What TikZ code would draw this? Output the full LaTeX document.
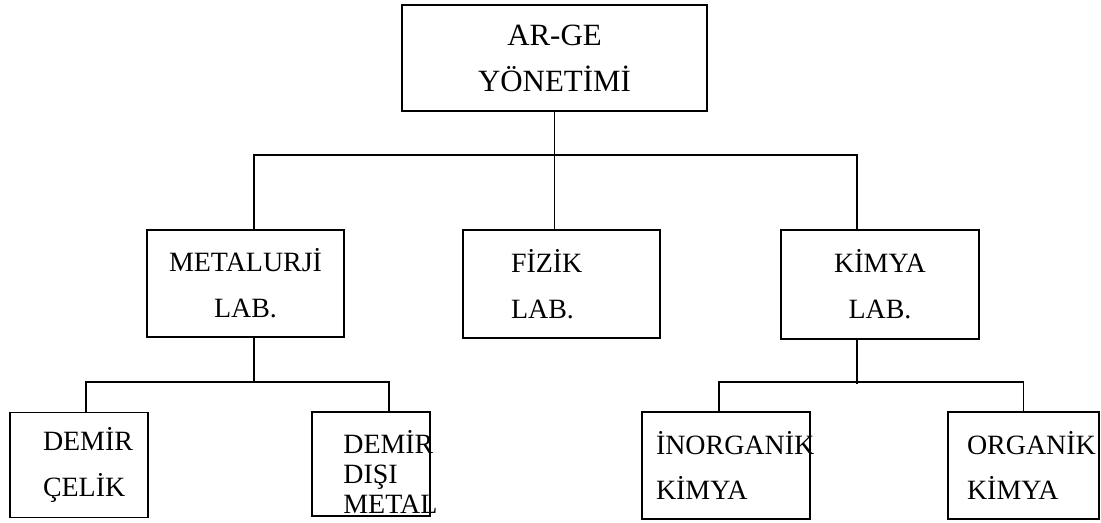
\documentclass[tikz,border=0pt]{standalone}
\usepackage{fontspec}
\setmainfont{Liberation Serif}
\usetikzlibrary{positioning}

\tikzset{
	kutu/.style={draw, line width=1.1pt, inner sep=0pt, font=\fontsize{15.9pt}{26.1pt}\selectfont},
	hat/.style={line width=1.1pt},
}

\begin{document}
\begin{tikzpicture}[x=0.02cm, y=-0.02cm]
			\useasboundingbox (0,0) rectangle (1101,522);
			
			% Yonetim
			\node[kutu, minimum width=6.1cm, minimum height=2.12cm, align=center, font=\fontsize{17.6pt}{26.1pt}\selectfont] (yonetim) at (554.5,58) {AR-GE\\YÖNETİMİ};
			
			% Laboratuvarlar
			\node[kutu, minimum width=3.94cm, minimum height=2.14cm, align=center] (metalurji) at (245.5,283.5) {METALURJİ\\LAB.};
			\node[kutu, minimum width=3.94cm, minimum height=2.16cm, text width=2.02cm, align=left] (fizik) at (561.5,284) {FİZİK\\LAB.};
			\node[kutu, minimum width=3.96cm, minimum height=2.18cm, align=center] (kimya) at (880,284.5) {KİMYA\\LAB.};
			
			% Alt birimler
			\node[kutu, minimum width=2.76cm, minimum height=2.1cm, text width=1.44cm, align=left] (demircelik) at (79,465) {DEMİR\\ÇELİK};
			\node[kutu, minimum width=2.36cm, minimum height=2.08cm] (demirdisi) at (371,464) {};
			\node[anchor=north west, inner sep=0pt, align=left, font=\fontsize{15.9pt}{17.2pt}\selectfont] (demirdisiyazi) at (343,430) {DEMİR\\DIŞI\\METAL};
			\node[kutu, minimum width=3.36cm, minimum height=2.14cm, text width=2.8cm, align=left] (inorganik) at (726,465.5) {İNORGANİK\\KİMYA};
			\node[kutu, minimum width=3.02cm, minimum height=2.14cm, text width=2.26cm, align=left] (organik) at (1023.5,465.5) {ORGANİK\\KİMYA};
			
			% Baglantilar
			\draw[hat] (yonetim.south) -- (yonetim.south |- fizik.north);
			\draw[hat] ([xshift=0.17cm]metalurji.north) -- ++(0,-74) -| ([xshift=-0.46cm]kimya.north);
			
			\draw[hat] ([xshift=0.17cm]metalurji.south) -- ++(0,45);
			\draw[hat] ([xshift=0.14cm]demircelik.north) -- ++(0,-30) -| ([xshift=0.36cm]demirdisi.north);
			
			\draw[hat] ([xshift=-0.46cm]kimya.south) -- ++(0,44);
			\draw[hat] ([xshift=-0.14cm]inorganik.north) -- ++(0,-29) -| (organik.north);
			
\end{tikzpicture}
\end{document}
